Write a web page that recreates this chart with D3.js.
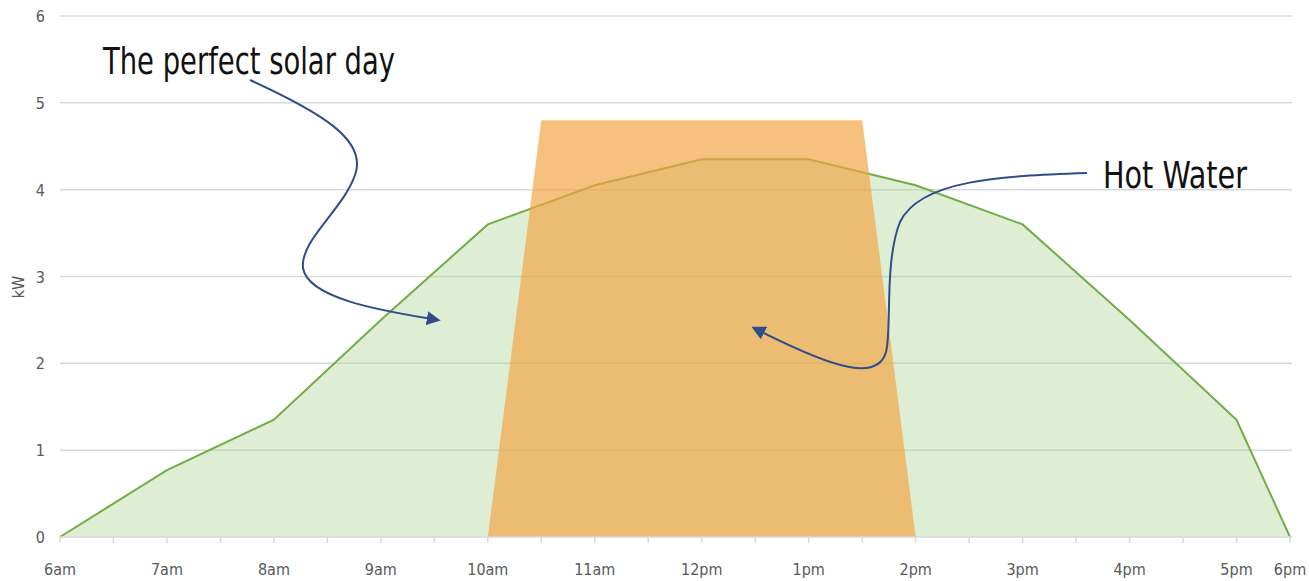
<!DOCTYPE html>
<html>
<head>
<meta charset="utf-8">
<script src="https://cdn.jsdelivr.net/npm/d3@7"></script>
<style>
  html, body { margin: 0; padding: 0; background: #fff; }
  svg { display: block; }
</style>
</head>
<body>
<svg id="chart" width="1309" height="581"></svg>
<script>
// Half-hour slots along the x axis; only whole hours carry a label
const slots = ["6am","6:30","7am","7:30","8am","8:30","9am","9:30","10am","10:30",
  "11am","11:30","12pm","12:30","1pm","1:30","2pm","2:30","3pm","3:30",
  "4pm","4:30","5pm","6pm"];
const tickLabels = ["6am","7am","8am","9am","10am","11am","12pm","1pm","2pm","3pm","4pm","5pm","6pm"];

// Solar generation (kW) at each hour
const solarSlots = ["6am","7am","8am","9am","10am","11am","12pm","1pm","2pm","3pm","4pm","5pm","6pm"];
const solarKw    = [0, 0.77, 1.35, 2.5, 3.6, 4.05, 4.35, 4.35, 4.05, 3.6, 2.5, 1.35, 0];

// Hot water heating load (kW)
const hotWaterSlots = ["10am","10:30","1:30","2pm"];
const hotWaterKw    = [0, 4.8, 4.8, 0];

const yTicks = [0, 1, 2, 3, 4, 5, 6];

const axisFont = "'DejaVu Sans Condensed', 'DejaVu Sans', sans-serif";
const noteFont = "'Liberation Sans Narrow', 'DejaVu Sans Condensed', Lato, sans-serif";

const svg = d3.select("#chart");
const x = d3.scalePoint().domain(slots).range([60, 1290]);
const y = d3.scaleLinear().domain([0, 6]).range([537, 16]);

// Horizontal gridlines
svg.append("g").selectAll("line").data(yTicks.filter(d => d > 0)).join("line")
  .attr("x1", 60).attr("x2", 1292)
  .attr("y1", d => y(d)).attr("y2", d => y(d))
  .attr("stroke", "#d9d9d9").attr("stroke-width", 1.5);

// Y tick labels
svg.append("g").selectAll("text").data(yTicks).join("text")
  .attr("x", 45).attr("y", d => y(d) + 6)
  .attr("text-anchor", "end")
  .attr("font-family", axisFont)
  .attr("font-size", 16).attr("fill", "#595959")
  .text(d => d);

svg.append("text")
  .attr("transform", "translate(24,287) rotate(-90)")
  .attr("text-anchor", "middle")
  .attr("font-family", axisFont)
  .attr("font-size", 16).attr("fill", "#595959")
  .text("kW");

// Solar area
const solar = solarSlots.map((s, i) => ({ s, v: solarKw[i] }));
const area = d3.area().x(d => x(d.s)).y0(y(0)).y1(d => y(d.v));
const line = d3.line().x(d => x(d.s)).y(d => y(d.v));

svg.append("path").datum(solar)
  .attr("d", area)
  .attr("fill", "#a9d18e").attr("fill-opacity", 0.38);
svg.append("path").datum(solar)
  .attr("d", line)
  .attr("fill", "none").attr("stroke", "#70ad47").attr("stroke-width", 2);

// Hot water block
const hw = hotWaterSlots.map((s, i) => ({ s, v: hotWaterKw[i] }));
svg.append("path").datum(hw)
  .attr("d", area)
  .attr("fill", "#f2a343").attr("fill-opacity", 0.68);

// X axis baseline and ticks
svg.append("line")
  .attr("x1", 60).attr("x2", 1292).attr("y1", y(0)).attr("y2", y(0))
  .attr("stroke", "#d9d9d9").attr("stroke-width", 1.5);
svg.append("g").selectAll("line").data(slots).join("line")
  .attr("x1", d => x(d)).attr("x2", d => x(d))
  .attr("y1", y(0)).attr("y2", y(0) + 6)
  .attr("stroke", "#d9d9d9").attr("stroke-width", 1.5);
svg.append("g").selectAll("text").data(tickLabels).join("text")
  .attr("x", d => x(d)).attr("y", 575)
  .attr("text-anchor", "middle")
  .attr("font-family", axisFont)
  .attr("font-size", 16).attr("fill", "#595959")
  .text(d => d);

// Annotations
const arrowColor = "#2f4d8a";
svg.append("defs").append("marker")
  .attr("id", "head").attr("viewBox", "0 0 10 10")
  .attr("refX", 8).attr("refY", 5)
  .attr("markerWidth", 14).attr("markerHeight", 14)
  .attr("markerUnits", "userSpaceOnUse")
  .attr("orient", "auto")
  .append("path").attr("d", "M0,0 L10,5 L0,10 Z").attr("fill", arrowColor);

function note(px, py, width, label) {
  const t = svg.append("text")
    .attr("x", px).attr("y", py)
    .attr("font-family", noteFont)
    .attr("font-size", 38).attr("fill", "#111")
    .text(label);
  // keep the label within its intended width whichever face is picked
  if (t.node().getComputedTextLength() > width + 4) {
    t.attr("textLength", width).attr("lengthAdjust", "spacingAndGlyphs");
  }
}
note(103, 74, 292, "The perfect solar day");
note(1103, 188, 144, "Hot Water");

svg.append("path")
  .attr("d", "M250,80 C320,112 368,140 355,175 C343,210 300,240 303,268 C308,300 390,312 438,320")
  .attr("fill", "none").attr("stroke", arrowColor).attr("stroke-width", 2)
  .attr("marker-end", "url(#head)");

svg.append("path")
  .attr("d", "M1087,173 C1000,176 920,180 900,222 C884,262 892,330 886,352 C878,380 840,372 754,328")
  .attr("fill", "none").attr("stroke", arrowColor).attr("stroke-width", 2)
  .attr("marker-end", "url(#head)");
</script>
</body>
</html>
